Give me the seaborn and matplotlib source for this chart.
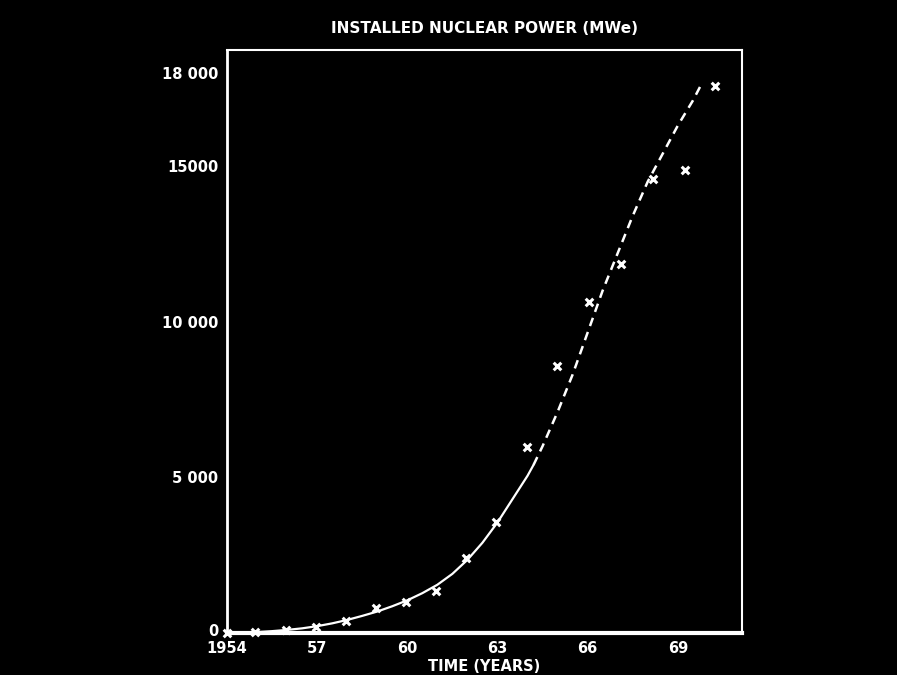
import numpy as np
import pandas as pd
import seaborn as sns
import matplotlib
matplotlib.use("Agg")
import matplotlib.pyplot as plt
import matplotlib.transforms as mtransforms

years = [1954.0, 1954.93, 1955.96, 1956.96, 1957.96, 1958.96, 1959.95, 1960.95,
         1961.95, 1962.95, 1963.98, 1964.98, 1966.05, 1967.12, 1968.17,
         1969.23, 1970.23]
mwe = [0, 30, 100, 190, 390, 800, 1000, 1350, 2400,
       3570, 5980, 8580, 10640, 11870, 14600, 14860, 17560]

# fitted curve, solid part
fit_years = [1954.0, 1954.5, 1955.0, 1955.5, 1956.0, 1956.5, 1957.0, 1957.5,
             1958.0, 1958.5, 1959.0, 1959.5, 1960.0, 1960.5, 1961.0, 1961.5,
             1962.0, 1962.5, 1963.0, 1963.5, 1964.0, 1964.2]
fit_mwe = [0, 10, 30, 60, 100, 150, 220, 310,
           420, 550, 690, 860, 1050, 1280, 1550, 1900,
           2350, 2900, 3550, 4300, 5050, 5400]

# extrapolated part (dashed)
ext_years = [1964.2, 1964.5, 1965.0, 1965.5, 1966.0, 1966.5, 1967.0,
             1967.5, 1968.0, 1968.5, 1969.0, 1969.5, 1969.77]
ext_mwe = [5400, 6000, 7100, 8300, 9650, 11000, 12200,
           13400, 14500, 15400, 16300, 17100, 17600]

ytick_vals = [0, 5000, 10000, 15000, 18000]
ytick_text = ["0", "5 000", "10 000", "15000", "18 000"]
xtick_vals = [1954, 1957, 1960, 1963, 1966, 1969]
xtick_text = ["1954", "57", "60", "63", "66", "69"]

sns.set_style("dark", {"axes.facecolor": "black", "figure.facecolor": "black",
                       "axes.edgecolor": "white", "text.color": "white",
                       "xtick.color": "white", "ytick.color": "white"})
plt.rcParams["font.family"] = ["DejaVu Sans"]

fig = plt.figure(figsize=(8.97, 6.75), dpi=100)
ax = fig.add_axes([0.253, 0.0622, 0.574, 0.8638])

pts = pd.DataFrame({"year": years, "mwe": mwe})
fit = pd.DataFrame({"year": fit_years, "mwe": fit_mwe})
ext = pd.DataFrame({"year": ext_years, "mwe": ext_mwe})

sns.lineplot(data=fit, x="year", y="mwe", ax=ax, color="white", lw=1.6)
sns.lineplot(data=ext, x="year", y="mwe", ax=ax, color="white", lw=1.8,
             linestyle=(0, (3.5, 2.5)))
sns.scatterplot(data=pts, x="year", y="mwe", ax=ax, marker="x", s=30,
                color="white", linewidth=2.2, zorder=5, clip_on=False)

ax.set_xlim(1954, 1971.13)
ax.set_ylim(0, 18730)

ax.set_xticks(range(1954, 1972))
ax.set_xticklabels([xtick_text[xtick_vals.index(y)] if y in xtick_vals else ""
                    for y in range(1954, 1972)])
ax.set_yticks(range(0, 18001, 1000))
ax.set_yticklabels([ytick_text[ytick_vals.index(v)] if v in ytick_vals else ""
                    for v in range(0, 18001, 1000)])
ax.tick_params(axis="both", direction="in", length=5, width=1.5,
               labelsize=10.5, colors="white")
ax.tick_params(axis="x", pad=6)
ax.tick_params(axis="y", pad=6)
for lab in ax.get_xticklabels() + ax.get_yticklabels():
    lab.set_fontweight("bold")
# nudge the y "0" up a little, as in the original
zero = ax.get_yticklabels()[0]
zero.set_transform(zero.get_transform() +
                   mtransforms.ScaledTranslation(0, 3 / 100, fig.dpi_scale_trans))

ax.grid(False)
for side, w in {"left": 2.0, "bottom": 3.0, "top": 1.5, "right": 1.5}.items():
    ax.spines[side].set_color("white")
    ax.spines[side].set_linewidth(w)

ax.set_xlabel("TIME (YEARS)", fontsize=10.5, fontweight="bold", color="white",
              labelpad=2)
ax.set_ylabel("")
fig.text(0.54, 0.958, "INSTALLED NUCLEAR POWER (MWe)", ha="center",
         va="center", fontsize=11, fontweight="bold", color="white")

fig.savefig("out.png", dpi=100, facecolor="black")
